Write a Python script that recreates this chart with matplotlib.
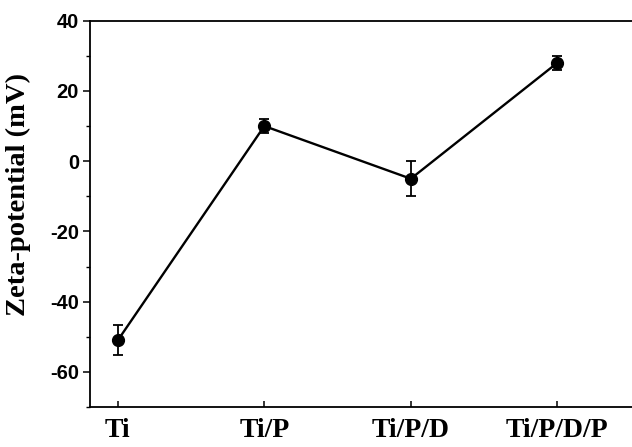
import numpy as np
import matplotlib
matplotlib.use("Agg")
import matplotlib.pyplot as plt
from matplotlib.ticker import MultipleLocator

# data
samples = ["Ti", "Ti/P", "Ti/P/D", "Ti/P/D/P"]
zeta = [-51, 10, -5, 28]
zeta_err = [4.3, 2.0, 5.0, 2.0]
y_ticks = [-60, -40, -20, 0, 20, 40]

fig = plt.figure(figsize=(6.32, 4.47), dpi=100)
ax = fig.add_axes([90 / 632, 1 - 407 / 447, 1 - 90 / 632, (407 - 20.7) / 447])

x = np.arange(len(samples))
ax.errorbar(x, zeta, yerr=zeta_err, color="black", lw=1.7, marker="o",
            markersize=8.5, capsize=3.5, elinewidth=1.3, capthick=1.3, zorder=3)

# Ti sits at x=118 px, 146 px between samples, left spine at 90 px
ax.set_xlim(-0.19, 3.51)
ax.set_ylim(-70, 40)
ax.set_xticks(x)
ax.set_xticklabels(samples, fontfamily="Liberation Serif", fontweight="bold", fontsize=20)
ax.set_yticks(y_ticks)
ax.set_yticklabels([str(v) for v in y_ticks], fontfamily="Liberation Sans", fontweight="bold", fontsize=14.5)
ax.yaxis.set_minor_locator(MultipleLocator(10))

ax.tick_params(axis="x", direction="in", length=4, width=1.1, pad=8)
ax.tick_params(axis="y", which="major", direction="out", length=5, width=1.1, pad=3)
ax.tick_params(axis="y", which="minor", direction="out", length=3, width=1.0)

for s in ["left", "bottom", "top"]:
    ax.spines[s].set_linewidth(1.3)
ax.spines["right"].set_visible(False)

ax.set_ylabel("Zeta-potential (mV)", fontfamily="Liberation Serif", fontweight="bold", fontsize=20.5)
ax.yaxis.set_label_coords(-0.108, 0.55)

fig.savefig("out.png", dpi=100)
